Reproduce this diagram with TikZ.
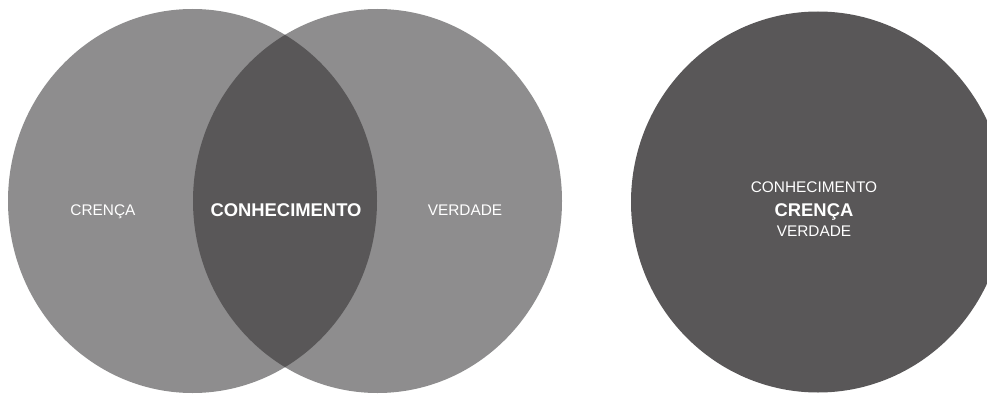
\documentclass[tikz,border=0pt]{standalone}
\usepackage{fontspec}
\setmainfont{Liberation Sans}
\definecolor{grisclaro}{RGB}{142,141,142}
\definecolor{grisoscuro}{RGB}{89,87,88}
\tikzset{
  etiqueta/.style={text=white, inner sep=0pt, anchor=base, font=\fontsize{15.4}{17}\selectfont},
  etiquetanegrita/.style={etiqueta, font=\fontsize{18.4}{20}\selectfont\bfseries}
}
\begin{document}
\begin{tikzpicture}[x=1pt,y=-1pt]
% El marco de la figura
\clip (0,0) rectangle (987,396);

% Los dos círculos claros
\fill[grisclaro] (192.5,201) ellipse (184.5 and 192);
\fill[grisclaro] (377.5,201) ellipse (184.5 and 192);

% La intersección, más oscura
\begin{scope}
\clip (192.5,201) ellipse (184.5 and 192);
\fill[grisoscuro] (377.5,201) ellipse (184.5 and 192);
\end{scope}

% El círculo grande de la derecha
\fill[grisoscuro] (818,202) ellipse (187 and 190.5);

% Los textos
\node[etiqueta] (crenca) at (103,215) {CRENÇA};
\node[etiquetanegrita] (conhecimento) at (286,216) {CONHECIMENTO};
\node[etiqueta] (verdade) at (465,215) {VERDADE};

\node[etiqueta] (conhecimentodir) at (814,192.7) {CONHECIMENTO};
\node[etiquetanegrita] (crencadir) at (814,216) {CRENÇA};
\node[etiqueta] (verdadedir) at (814,236) {VERDADE};
\end{tikzpicture}
\end{document}
